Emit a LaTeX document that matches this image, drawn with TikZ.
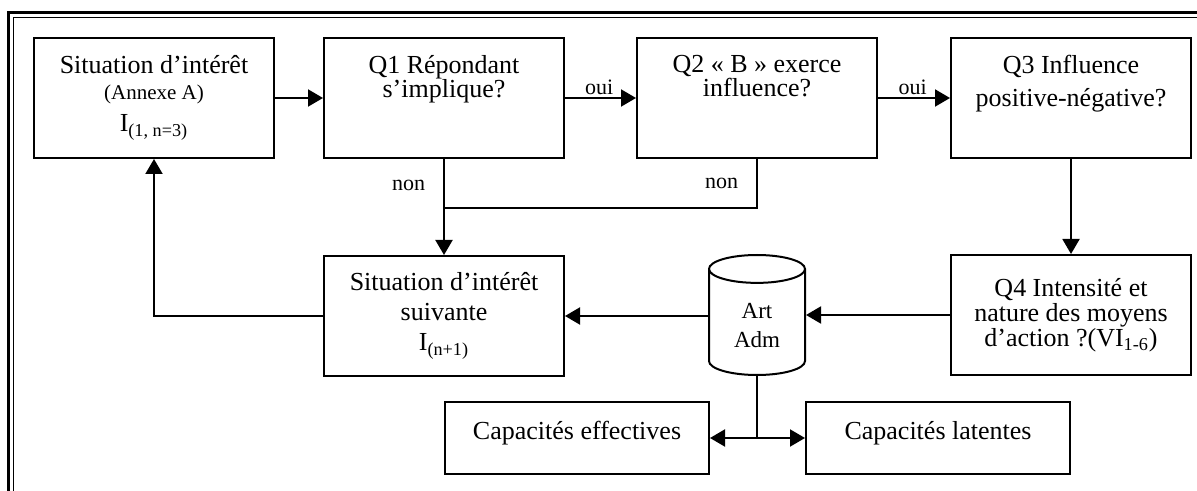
\documentclass[tikz,border=0pt]{standalone}
\usepackage{fontspec}
\setmainfont{Liberation Serif}
\usepackage{tikz}
\usetikzlibrary{shapes.geometric,arrows.meta,positioning}
\tikzset
{
    stepbox/.style = {rectangle, draw=black, line width=1pt, align=center, minimum width=120pt, minimum height=60pt, inner sep=2pt, font=\fontsize{13}{15}\selectfont},
    capbox/.style  = {stepbox, minimum width=132pt, minimum height=36pt, text height=9pt, text depth=8pt},
    store/.style   = {cylinder, shape border rotate=90, aspect=0.47, draw=black, line width=1pt, align=center, minimum width=48pt, minimum height=60pt, font=\fontsize{11.5}{14.5}\selectfont},
    link/.style    = {line width=1pt},
    flow/.style    = {link, -{Triangle[length=7.5pt,width=8.5pt]}},
    answer/.style  = {font=\fontsize{11}{13}\selectfont, inner sep=1pt}
}

\begin{document}
\begin{tikzpicture}[x=0.5pt, y=0.5pt]
	\useasboundingbox (0,0) rectangle (1197,-491);
	% double frame, top and left
	\draw[line width=1.5pt] (8,-491) -- (8,-12.5) -- (1197,-12.5);
	\draw[line width=0.9pt] (13.5,-491) -- (13.5,-17.5) -- (1197,-17.5);

	% first row
	\node[stepbox] (sitA) at (154,-98) {Situation d’intérêt\\[-2pt]{\fontsize{10.5}{12}\selectfont (Annexe A)}\\[1pt]I\textsubscript{(1, n=3)}};
	\node[stepbox, right=24pt of sitA] (q1) {Q1 Répondant\\[-3pt]s’implique?\\[7pt]\mbox{}};
	\node[stepbox, right=35.5pt of q1] (q2) {Q2 « B » exerce\\[-3pt]influence?\\[7pt]\mbox{}};
	\node[stepbox, right=36pt of q2] (q3) {Q3 Influence\\[1.5pt]positive-négative?\\[2.5pt]\mbox{}};

	% second row
	\node[stepbox, below=48pt of q1] (suiv) {Situation d’intérêt\\suivante\\I\textsubscript{(n+1)}};
	\node[stepbox, below=47.5pt of q3] (q4) {Q4 Intensité et\\[-2.5pt]nature des moyens\\[-2.5pt]d’action ?(VI\textsubscript{1-6})};
	\node[store, anchor=shape center] (artadm) at (q2 |- q4) {Art\\Adm};

	% capacities
	\node[capbox, below=12pt of suiv.south, anchor=north west] (capeff) {Capacités effectives};
	\node[capbox, below=12.5pt of q4.south, anchor=north east] (caplat) {Capacités latentes};

	\coordinate[below=24.5pt of q1.south] (jn);
	\coordinate (fork) at (artadm.south |- capeff.east);

	% connectors
	\draw[flow] (sitA) -- (q1);
	\draw[flow] (q1) -- node[answer, above, pos=0.48]{oui} (q2);
	\draw[flow] (q2) -- node[answer, above, pos=0.48]{oui} (q3);
	\draw[flow] (q1) -- node[answer, left=8pt, pos=0.28]{non} (suiv);
	\draw[link] (q2.south) |- node[answer, left=8pt, pos=0.25]{non} (jn);
	\draw[flow] (q3) -- (q4);
	\draw[flow] (q4.west) -- (q4.west -| artadm.east);
	\draw[flow] (suiv.east -| artadm.west) -- (suiv.east);
	\draw[flow] (suiv) -| (sitA);
	\draw[link] (artadm.south) -- (fork);
	\draw[flow] (fork) -- (capeff.east);
	\draw[flow] (fork) -- (caplat.west);
\end{tikzpicture}
\end{document}
